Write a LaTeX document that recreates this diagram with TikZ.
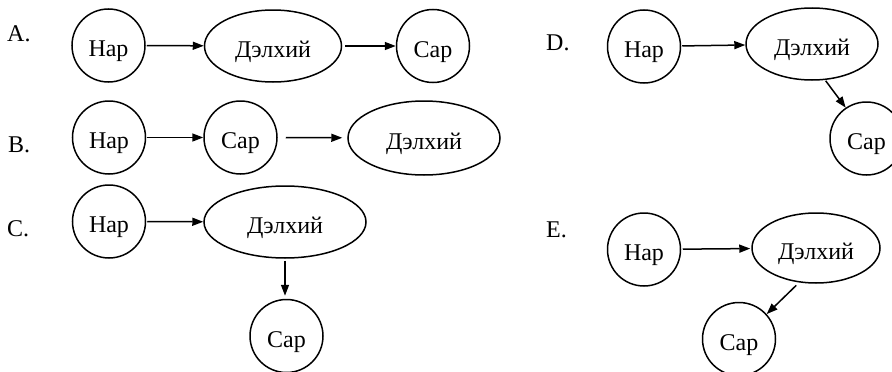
\documentclass[tikz,border=0pt]{standalone}
\usepackage{fontspec}
\setmainfont{Liberation Serif}
\usetikzlibrary{shapes.geometric,arrows.meta}
\begin{document}
\begin{tikzpicture}[x=1pt,y=-1pt,
  every node/.style={font=\rmfamily\fontsize{24}{28}\selectfont, inner sep=0pt},
  circ/.style={draw, circle, line width=1.5pt, minimum size=73pt, text height=22pt, text depth=0pt},
  ell/.style={draw, ellipse, line width=1.5pt, text height=22pt, text depth=0pt},
  lbl/.style={anchor=base west},
  arr/.style={line width=1.5pt, -{Triangle[length=11pt,width=8pt]}}
]
\useasboundingbox (0,0) rectangle (892,372);
\clip (0,0) rectangle (892,372);

% A
\node[lbl] (la) at (7,41) {A.};
\node[circ] (a1) at (108.5,45.5) {Нар};
\node[ell, minimum width=137pt, minimum height=72pt] (a2) at (273,46) {Дэлхий};
\node[circ] (a3) at (433,46) {Сар};
\draw[arr, shorten <=1pt] (a1) -- (a2);
\draw[arr, shorten <=3pt] (a2) -- (a3);

% B
\node[lbl] (lb) at (8,152) {B.};
\node[circ] (b1) at (109,137.5) {Нар};
\node[circ] (b2) at (240.5,137.5) {Сар};
\node[ell, minimum width=152pt, minimum height=74pt] (b3) at (424,138) {Дэлхий};
\draw[arr, shorten <=1pt] (b1) -- (b2);
\draw[arr, shorten <=8pt, shorten >=5pt] (b2) -- (b3);

% C
\node[lbl] (lc) at (7,236) {C.};
\node[circ] (c1) at (109,221.5) {Нар};
\node[ell, minimum width=162pt, minimum height=72pt] (c2) at (285,222) {Дэлхий};
\node[circ] (c3) at (286.5,336) {Сар};
\draw[arr, shorten <=1pt] (c1) -- (c2);
\draw[arr, shorten <=2pt, shorten >=3pt] (c2.south) -- (c2.south |- c3.north);

% D
\node[lbl] (ld) at (546,50) {D.};
\node[circ] (d1) at (644,46.5) {Нар};
\node[ell, minimum width=132pt, minimum height=72pt] (d2) at (812,44) {Дэлхий};
\node[circ] (d3) at (866.5,138.5) {Сар};
\draw[arr, shorten <=1pt] (d1) -- (d2);
\draw[arr, shorten <=1pt] (d2.290) -- (d3.124);

% E
\node[lbl] (le) at (546,237) {E.};
\node[circ] (e1) at (644,249.5) {Нар};
\node[ell, minimum width=128pt, minimum height=70pt] (e2) at (816,248) {Дэлхий};
\node[circ] (e3) at (739,339) {Сар};
\draw[arr, shorten <=1.5pt, shorten >=1pt] (e1) -- (e2);
\draw[arr, shorten <=4pt] (e2.244.6) -- (e3.42.7);
\end{tikzpicture}
\end{document}
